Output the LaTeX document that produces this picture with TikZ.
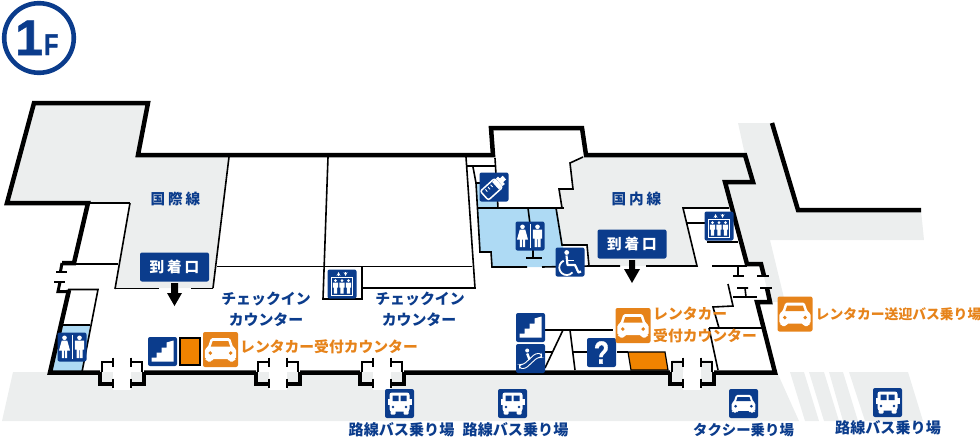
\documentclass[tikz,border=0pt]{standalone}
\usepackage{fontspec}
\newfontfamily\jp{Noto Sans CJK JP}
\newcommand\jpb{\jp\bfseries}
\newfontfamily\jpw[LetterSpace=20]{Noto Sans CJK JP}
\newfontfamily\lat[BoldFeatures={FakeBold=1.2}]{Liberation Sans}
\definecolor{navy}{HTML}{0B3C8C}
\definecolor{grayf}{HTML}{ECEEEE}
\definecolor{wc}{HTML}{AEDAF4}
\definecolor{org}{HTML}{E6831A}
\definecolor{orgf}{HTML}{F08300}
\tikzset{
 wall/.style={line width=4.5pt,miter limit=10},
 thin/.style={line width=1.6pt,draw=black},
 sign/.style={fill=navy,rounded corners=2pt,minimum width=29pt,minimum height=29pt,inner sep=0pt,draw=none},
 osign/.style={fill=org,rounded corners=2pt,minimum width=35pt,minimum height=35pt,inner sep=0pt,draw=none},
 lab/.style={text=navy,font=\fontsize{15.1pt}{15pt}\selectfont\jpb,inner sep=0pt},
 chk/.style={text=navy,font=\fontsize{14.9pt}{15pt}\selectfont\jpb,inner sep=0pt},
 olab/.style={text=org,font=\fontsize{14.8pt}{15pt}\selectfont\jpb,inner sep=0pt},
 wide/.style={font=\fontsize{14.6pt}{15pt}\selectfont\jpw\bfseries,inner sep=0pt},
 arrbox/.style={fill=navy,rounded corners=2pt,minimum width=69pt,minimum height=29pt,inner sep=0pt,text=white,wide},
}
\newcommand\carIcon[1]{%
 \fill[white,rounded corners=1.5pt] (-8,-9.5)--(8,-9.5)--(10.5,-2)--(13,-.5)--(13,8)--(11.5,8)--(11.5,10)--(7,10)--(7,8)--(-7,8)--(-7,10)--(-11.5,10)--(-11.5,8)--(-13,8)--(-13,-.5)--(-10.5,-2)--cycle;
 \fill[#1] (-6.5,-7)--(6.5,-7)--(8,-2.5)--(-8,-2.5)--cycle;
 \fill[#1] (-8.5,3) circle (1.6) (8.5,3) circle (1.6);
}
\newcommand\busIcon{%
 \fill[white,rounded corners=2.5pt] (-10,-11)rectangle(10,8);
 \fill[white] (-12,-5)rectangle(12,1);
 \fill[white,rounded corners=1pt] (-9,6)rectangle(-4,11) (4,6)rectangle(9,11);
 \fill[navy] (-7,-8)rectangle(-1,-2.5) (1,-8)rectangle(7,-2.5);
 \fill[navy] (-6.5,3.5) circle (1.3) (6.5,3.5) circle (1.3);
}
\newcommand\elevIcon{%
 \draw[white,line width=.7pt] (-10.5,-6.5)rectangle(10.5,11.3);
 \draw[white,line width=.7pt,-stealth] (-3.5,-8)--(-3.5,-12);
 \draw[white,line width=.7pt,-stealth] (3.5,-12)--(3.5,-8);
 \foreach \px in {-6.5,0,6.5}{\begin{scope}[shift={(\px,0)}]
  \fill[white] (0,-3.3) circle (1.5);
  \fill[white] (-2.6,-1.5)--(2.6,-1.5)--(2.6,3.5)--(1.6,3.5)--(1.6,9.5)--(.2,9.5)--(.2,4)--(-.2,4)--(-.2,9.5)--(-1.6,9.5)--(-1.6,3.5)--(-2.6,3.5)--cycle;
 \end{scope}}
}
\newcommand\wcIcon{%
 \begin{scope}[shift={(-7.5,0)}]
  \fill[white] (0,-9.2) circle (2.3);
  \fill[white] (-2.8,-6.3)--(2.8,-6.3)--(5.5,3.5)--(2.6,3.5)--(2.6,11)--(.5,11)--(.5,3.5)--(-.5,3.5)--(-.5,11)--(-2.6,11)--(-2.6,3.5)--(-5.5,3.5)--cycle;
 \end{scope}
 \begin{scope}[shift={(7.5,0)}]
  \fill[white] (0,-9.2) circle (2.3);
  \fill[white] (-4.6,-6.3)--(4.6,-6.3)--(4.6,2.5)--(3,2.5)--(3,11)--(.4,11)--(.4,3)--(-.4,3)--(-.4,11)--(-3,11)--(-3,2.5)--(-4.6,2.5)--cycle;
 \end{scope}
 \draw[white,line width=.8pt] (0,-12)--(0,12);
}
\newcommand\stairIcon{%
 \fill[white] (-11,10)--(-11,6)--(-6,6)--(-6,1)--(-1,1)--(-1,-4)--(4,-4)--(4,-9)--(11,-11)--(11,10)--cycle;
}
\begin{document}
\begin{tikzpicture}[x=1pt,y=-1pt]
\useasboundingbox (0,0) rectangle (980,442);
% ground
\fill[grayf] (13,372)--(777,372)--(799,421)--(2,421)--cycle;
\fill[grayf] (790,372)--(804,372)--(819,421)--(805,421)--cycle;
\fill[grayf] (809,372)--(824,372)--(839,421)--(824,421)--cycle;
\fill[grayf] (829,372)--(843,372)--(858,421)--(843,421)--cycle;
\fill[grayf] (849,372)--(908,372)--(923,421)--(865,421)--cycle;
\fill[grayf] (738,123)--(770,123)--(797,210)--(921,210)--(924,240)--(770,240)--(785,302)--(770,302)--(761,264)--(747,264)--(725,182)--(753,182)--(745,155)--cycle;
\fill[grayf] (34,103)--(148,103)--(138,155)--(229,155)--(214,288)--(115,288)--(130,203)--(7,203)--cycle;
\fill[grayf] (583,157)--(570,163)--(573,189)--(559,189)--(562,208)--(557,208)--(563,245)--(587,245)--(589,266)--(697,266)--(683,208)--(729,208)--(725,182)--(753,182)--(745,155)--(585,155)--cycle;
% blue
\fill[wc] (476,183)--(497,183)--(498,208)--(557,208)--(563,245)--(563,267)--(492,267)--(491,252)--(480,252)--cycle;
\fill[wc] (63,326)--(90,326)--(82,372)--(52,372)--cycle;
% door strips
\foreach \dx in {122,278,382,692}{\fill[white] (\dx-9,362) rectangle (\dx+9,390);}
\fill[grayf] (672,360) rectangle (683,372) (701,360) rectangle (712,372);
% thin lines
\draw[thin] (229,157)--(213,288);
\draw[thin] (328,157)--(323,299)--(362,299)--(362,267);
\draw[thin] (217,266.5)--(472,266.5);
\draw[thin] (115,288.5)--(159,288.5) (191,288.5)--(213,288.5);
\draw[thin] (362,288)--(475,288)--(466,157);
\draw[thin] (130,203)--(115,289);
\draw[thin] (88,203)--(130,203);
\draw[thin] (74,264)--(118,264);
\draw[thin] (68,289.5)--(98,289.5)--(82,372);
\draw[thin] (63,325)--(90,325);
\draw[thin] (467,166)--(495,166);
\draw[thin] (473,167)--(476,183)--(480,252)--(491,252)--(492,267)--(527,267);
\draw[thin] (476,183)--(480,183);
\draw[thin] (542,267)--(589,266);
\draw[thin] (495,158)--(498,208);
\draw[thin] (478,208)--(564,208);
\draw[thin] (528,208)--(530,224);
\draw[thin] (533,248)--(533,258) (526,258)--(542,258);
\draw[thin] (583,157)--(570,163)--(573,189)--(559,189)--(562,208);
\draw[thin] (556,208)--(562,245)--(587,245)--(589,266)--(620,266);
\draw[thin] (646,266)--(697,266)--(683,208)--(729,208);
\draw[thin] (687,223)--(705,223);
\draw[thin] (707,242)--(738,242);
\draw[thin] (712,266)--(747,266);
\draw[thin] (738,266)--(738,276) (733,276)--(744,276);
\draw[thin] (757,276)--(769,276);
\draw[thin] (737,288)--(748,288) (745,288)--(746,297);
\draw[thin] (760,288)--(772,288);
\draw[thin] (728,284)--(733,306)--(713,307)--(719,328);
\draw[thin] (733,297)--(757,297);
\draw[thin] (709,328)--(762,328);
\draw[thin] (709,328)--(718,370);
\draw[thin] (545,330)--(613,330);
\draw[thin] (563,330)--(545,368);
\draw[thin] (570,330)--(575,370);
\draw[thin] (545,352)--(552,352);
\draw[thin] (573,352)--(587,352);
\draw[thin] (617,352)--(628,352);
\draw[line width=1.2pt,fill=orgf] (628,352)--(665,352)--(668,370)--(631,370)--cycle;
\draw[line width=1.2pt,fill=orgf] (180,338) rectangle (200,365);
% doors
\foreach \dx in {122,278,382,692}{
 \draw[line width=1.4pt] (\dx-20,372)--(\dx-20,362)--(\dx-9,362);
 \draw[line width=1.4pt] (\dx+20,372)--(\dx+20,362)--(\dx+9,362);
 \draw[line width=1.4pt] (\dx-9,357.5)--(\dx-9,367) (\dx+9,357.5)--(\dx+9,367);
 \draw[line width=4pt] (\dx-22,372)--(\dx-22,384)--(\dx-9,384);
 \draw[line width=4pt] (\dx+22,372)--(\dx+22,384)--(\dx+9,384);
 \draw[line width=1.4pt] (\dx-9,378.5)--(\dx-9,388) (\dx+9,378.5)--(\dx+9,388);
}
% walls
\draw[wall] (62,263)--(74,263)--(88,203)--(7,203)--(34,103)--(148,103)--(138,155)--(493,155)--(491,128)--(582,128)--(586,155)--(745,155)--(753,182)--(725,182)--(747,264)--(761,264)--(764,276);
\draw[line width=3pt] (62,263)--(60.5,271.5);
\draw[line width=1.4pt] (56,272)--(67,272) (54,282)--(65,282);
\draw[line width=3pt] (60,282)--(58,291.5)--(70,291.5);
\draw[wall] (69,290)--(50,372.5)--(100,372.5);
\draw[wall] (144,372.5)--(256,372.5) (300,372.5)--(360,372.5) (404,372.5)--(670,372.5) (714,372.5)--(775,372.5)--(757,302)--(770,302)--(767,288);
\draw[wall] (772,123)--(798,210)--(921,210);
% arrows
\fill (171,283)--(178,283)--(178,293)--(182,293)--(174.5,306)--(167,293)--(171,293)--cycle;
\fill (629,260)--(635,260)--(635,269)--(640,269)--(632,283)--(624,269)--(629,269)--cycle;
% arrival
\node[arrbox] (arr1) at (174.5,267) {到着口};
\node[arrbox] (arr2) at (632,244) {到着口};
% signs
\node[sign] (el1) at (342,284) {};
\begin{scope}[shift={(el1.center)}]\elevIcon\end{scope}
\node[sign] (el2) at (719,226) {};
\begin{scope}[shift={(el2.center)}]\elevIcon\end{scope}
\node[sign] (bottle) at (494,187) {};
\begin{scope}[shift={(bottle.center)},rotate=-48]
 \fill[white] (-2.5,-14)rectangle(2.5,-10) (-5,-10)rectangle(5,-7);
 \draw[white,line width=1.5pt,rounded corners=2pt,fill=navy] (-6,-6)rectangle(6,13);
 \fill[white] (-5,-6)rectangle(5,-2);
 \draw[white,line width=.9pt] (-4,1)--(-1,1) (-4,4.5)--(-1,4.5) (-4,8)--(-1,8);
\end{scope}
\node[sign] (wc1) at (530,236) {};
\begin{scope}[shift={(wc1.center)}]\wcIcon\end{scope}
\node[sign] (wc2) at (72,347) {};
\begin{scope}[shift={(wc2.center)}]\wcIcon\end{scope}
\node[sign] (wheel) at (570,262) {};
\begin{scope}[shift={(wheel.center)}]
 \fill[white] (-3.3,-9.5) circle (2.4);
 \draw[white,line width=2.2pt,line join=round] (-3.5,-6.5)--(-2.5,3)--(5,3)--(8.5,10.5)--(11,9.5);
 \draw[white,line width=1.8pt] (-3,-1.5)--(4,-1.5);
 \draw[white,line width=1.8pt] (-6.3,-1.3) arc[start angle=246,end angle=40,radius=7.5];
\end{scope}
\node[sign] (st1) at (162.5,351.5) {};
\begin{scope}[shift={(st1.center)}]\stairIcon\end{scope}
\node[sign] (st2) at (530.5,327.5) {};
\begin{scope}[shift={(st2.center)}]\stairIcon\end{scope}
\node[sign] (esc) at (530.5,358.5) {};
\begin{scope}[shift={(esc.center)}]
 \fill[white] (-3.3,-8) circle (2);
 \draw[white,line width=2.4pt] (-3.3,-5)--(-1,1);
 \draw[white,line width=.9pt,rounded corners=2.5pt] (-11,6)--(-7,6)--(5,-5)--(11,-5)--(11,-1)--(7,-1)--(-5,10)--(-11,10)--cycle;
\end{scope}
\node[sign] (qm) at (601.5,352.5) {};
\node[text=white,inner sep=0pt,xscale=.78,font=\fontsize{32pt}{32pt}\selectfont\lat\bfseries] (qmt) at (qm.center) {?};
\node[osign] (car1) at (220.5,349.5) {};
\begin{scope}[shift={(car1.center)},scale=1.2]\carIcon{org}\end{scope}
\node[osign] (car2) at (633,325.5) {};
\begin{scope}[shift={(car2.center)},scale=1.2]\carIcon{org}\end{scope}
\node[osign] (car3) at (795,314) {};
\begin{scope}[shift={(car3.center)},scale=1.2]\carIcon{org}\end{scope}
\node[sign] (bus1) at (399.5,403.5) {};
\begin{scope}[shift={(bus1.center)}]\busIcon\end{scope}
\node[sign] (bus2) at (512.5,403.5) {};
\begin{scope}[shift={(bus2.center)}]\busIcon\end{scope}
\node[sign] (bus3) at (887.5,402.5) {};
\begin{scope}[shift={(bus3.center)}]\busIcon\end{scope}
\node[sign] (taxi) at (743.5,403.5) {};
\begin{scope}[shift={(taxi.center)},scale=.92]\carIcon{navy}\end{scope}
% texts
\node[wide,text=navy] (t1) at (175.5,199) {国際線};
\node[wide,text=navy] (t2) at (636.5,199) {国内線};
\node[chk,anchor=center] (c1) at (266,299.5) {チェックイン};
\node[chk] (c2) at (266,319.5) {カウンター};
\node[chk] (c3) at (420,299.5) {チェックイン};
\node[chk] (c4) at (419,319.5) {カウンター};
\node[olab,anchor=west] (o1) at (240,347) {レンタカー受付カウンター};
\node[olab,anchor=west] (o2) at (653,314) {レンタカー};
\node[olab,anchor=west] (o3) at (653,336) {受付カウンター};
\node[olab,anchor=west,font=\fontsize{13.8pt}{15pt}\selectfont\jpb] (o4) at (815.5,314) {レンタカー送迎バス乗り場};
\node[lab] (b1) at (401.5,430) {路線バス乗り場};
\node[lab] (b2) at (515.5,430) {路線バス乗り場};
\node[lab,font=\fontsize{14.4pt}{15pt}\selectfont\jpb] (b3) at (743.5,430) {タクシー乗り場};
\node[lab] (b4) at (888,428) {路線バス乗り場};
% 1F
\draw[navy,line width=4.6pt] (39,38) circle (34.8);
\node[text=navy,inner sep=0pt,anchor=base west,font=\fontsize{50pt}{50pt}\selectfont\lat\bfseries] (one) at (15,55) {1};
\node[text=navy,inner sep=0pt,anchor=base west,xscale=.78,font=\fontsize{30pt}{30pt}\selectfont\lat\bfseries] (eff) at (44,55) {F};
\end{tikzpicture}
\end{document}
